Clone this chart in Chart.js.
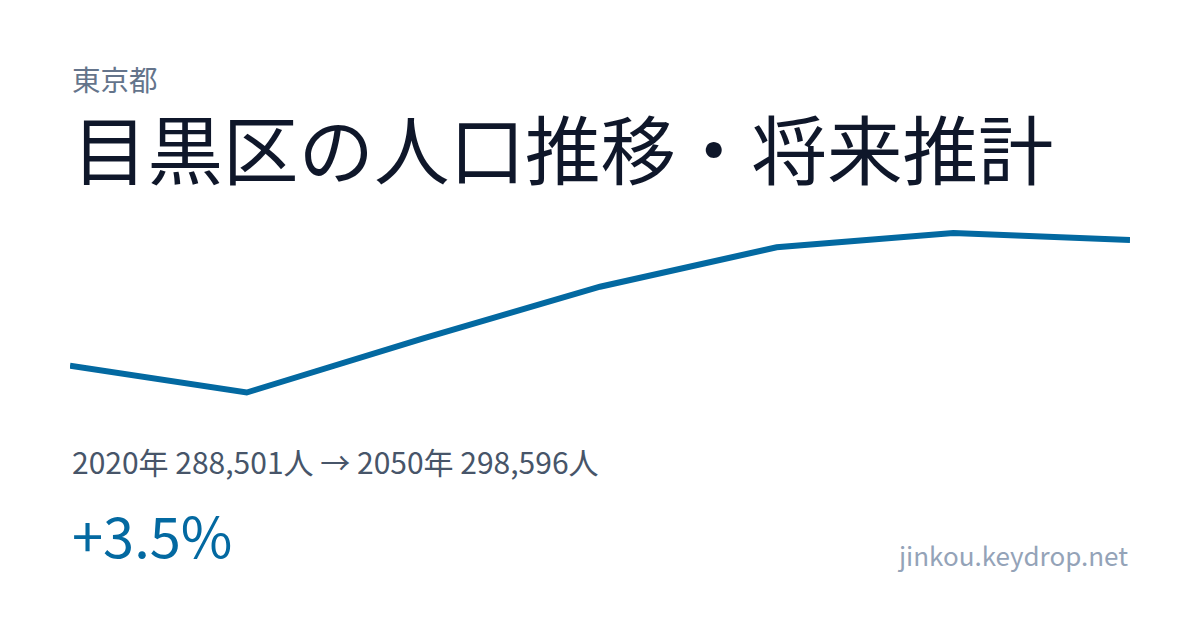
<!DOCTYPE html>
<html><head><meta charset="utf-8">
<script src="https://cdn.jsdelivr.net/npm/chart.js@4"></script>
<style>
html,body{margin:0;padding:0;background:#fff;}
body{width:1200px;height:630px;position:relative;overflow:hidden;font-family:"Noto Sans CJK JP","Noto Sans",sans-serif;}
.t{position:absolute;line-height:1;white-space:nowrap;}
#pref{left:72px;top:65px;font-size:28.5px;color:#64748b;}
#title{left:72px;top:109px;font-size:75.5px;color:#0f172a;}
#stats{left:72px;top:446px;font-size:30px;color:#475569;}
#pct{left:72px;top:506px;font-size:56px;color:#0369a1;}
#site{right:72px;top:542px;font-size:26px;color:#94a3b8;}
#wrap{position:absolute;left:70px;top:200px;width:1060px;height:220px;}
</style></head>
<body>
<div class="t" id="pref">東京都</div>
<div class="t" id="title">目黒区の人口推移・将来推計</div>
<div class="t" id="stats">2020年 288,501人 → 2050年 298,596人</div>
<div class="t" id="pct">+3.5%</div>
<div class="t" id="site">jinkou.keydrop.net</div>
<div id="wrap"><canvas id="c" width="1060" height="220"></canvas></div>
<script>
const years = ["2020","2025","2030","2035","2040","2045","2050"];
const population = [288501, 286349, 290701, 294845, 298010, 299158, 298596];
const yMin = 284140;
const yMax = 301808;

new Chart(document.getElementById('c'), {
  type: 'line',
  data: { labels: years, datasets: [{
    data: population,
    borderColor: '#0369a1',
    borderWidth: 6,
    pointRadius: 0,
    pointHoverRadius: 0,
    tension: 0,
    fill: false,
    clip: false,
    borderCapStyle: 'butt',
    borderJoinStyle: 'miter'
  }]},
  options: {
    responsive: false,
    devicePixelRatio: 1,
    animation: false,
    layout: { padding: 0 },
    plugins: { legend: { display: false }, tooltip: { enabled: false } },
    events: [],
    scales: {
      x: { display: false, offset: false },
      y: { display: false, min: yMin, max: yMax }
    }
  }
});
</script>
</body></html>
